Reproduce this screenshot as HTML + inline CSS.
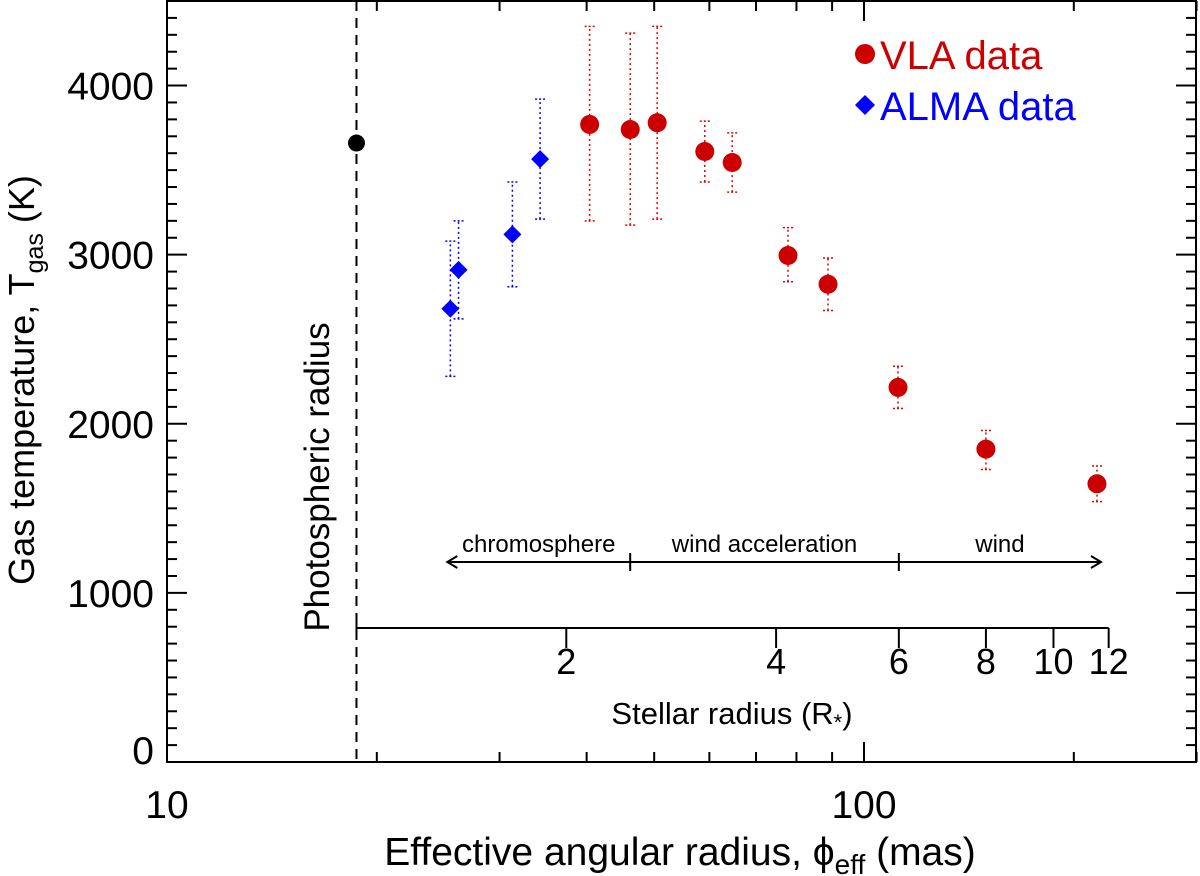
<!DOCTYPE html>
<html><head><meta charset="utf-8"><style>
html,body{margin:0;padding:0;background:#fff}
svg{display:block;font-family:"Liberation Sans",Arial,sans-serif}
</style></head><body>
<svg id="chart" width="1200" height="876" viewBox="0 0 1200 876">
<g id="axes"></g><g id="marks"></g>
</svg>
<script>
const vlaX=[40.4,46.2,50.5,59.1,64.7,77.8,88.8,111.9,149.6,215.9];
const vlaY=[3770,3740,3780,3610,3545,2995,2825,2215,1850,1645];
const vlaLo=[3200,3175,3210,3430,3370,2840,2670,2090,1730,1540];
const vlaHi=[4350,4310,4350,3790,3720,3160,2980,2340,1960,1750];
const almaX=[25.5,26.2,31.3,34.3];
const almaY=[2680,2910,3120,3565];
const almaLo=[2280,2620,2810,3210];
const almaHi=[3080,3200,3430,3920];
const photoX=18.7, photoY=3660;
const yTicks=[0,1000,2000,3000,4000];
const xTicks=[10,100];
const rTicks=[2,4,6,8,10,12];
const regionBounds=[1.35,2.47,6,11.7];
const regionNames=["chromosphere","wind acceleration","wind"];

const L=167,R=1196,T=1,B=762;
const X=m=>L+697*Math.log10(m/10);
const Y=v=>B-v*(B-T)/4500;
const RX=r=>X(photoX*r);
const NS="http://www.w3.org/2000/svg";
function mk(p,tag,at,txt){const e=document.createElementNS(NS,tag);for(const k in at)e.setAttribute(k,at[k]);if(txt!==undefined)e.textContent=txt;p.appendChild(e);return e;}
const ax=document.getElementById('axes'), mg=document.getElementById('marks');
let e=mk(ax,'rect',{x:L,y:T,width:R-L,height:B-T,fill:'none',stroke:'#000','stroke-width':2});

for(let v=100;v<=4500;v+=100){const big=v%1000===0;const y=Y(v);
mk(ax,'line',{x1:L,x2:L+(big?20:10),y1:y,y2:y,stroke:'#000','stroke-width':2});
mk(ax,'line',{x1:R,x2:R-(big?20:10),y1:y,y2:y,stroke:'#000','stroke-width':2});}
yTicks.forEach(v=>{const yy=v===0?Y(v)-12:Y(v);
e=mk(ax,'text',{x:154,y:yy+14,'text-anchor':'end','font-size':39},v);
});
for(let d=10;d<=100;d*=10)for(let k=1;k<10;k++){const m=d*k;if(m<10||m>300)continue;const big=k===1;const x=X(m);
mk(ax,'line',{x1:x,x2:x,y1:B,y2:B-(big?20:10),stroke:'#000','stroke-width':2});
mk(ax,'line',{x1:x,x2:x,y1:T,y2:T+(big?20:10),stroke:'#000','stroke-width':2});}
xTicks.forEach(m=>{e=mk(ax,'text',{x:X(m),y:818,'text-anchor':'middle','font-size':39},m);
});
e=mk(ax,'text',{x:34,y:380,'text-anchor':'middle','font-size':36,transform:'rotate(-90 34 380)'});
e.innerHTML='Gas temperature, T<tspan font-size="25" dy="9">gas</tspan><tspan dy="-9"> (K)</tspan>';

e=mk(ax,'text',{x:680,y:865,'text-anchor':'middle','font-size':39});
e.innerHTML='Effective angular radius, ϕ<tspan font-size="28" dy="9">eff</tspan><tspan dy="-9"> (mas)</tspan>';

e=mk(ax,'line',{x1:X(photoX),x2:X(photoX),y1:T,y2:B,stroke:'#000','stroke-width':2,'stroke-dasharray':'10,7'});

e=mk(ax,'text',{x:329,y:477,'text-anchor':'middle','font-size':35,transform:'rotate(-90 329 477)'},'Photospheric radius');

const ry=628;
e=mk(ax,'line',{x1:X(photoX),x2:RX(12),y1:ry,y2:ry,stroke:'#000','stroke-width':2});

mk(ax,'line',{x1:X(photoX),x2:X(photoX),y1:ry-6,y2:ry+6,stroke:'#000','stroke-width':2});
rTicks.forEach(r=>{const x=RX(r);mk(ax,'line',{x1:x,x2:x,y1:ry,y2:ry+20,stroke:'#000','stroke-width':2});
e=mk(ax,'text',{x:x,y:ry+46,'text-anchor':'middle','font-size':36},r);
});
e=mk(ax,'text',{x:732,y:724,'text-anchor':'middle','font-size':31});
e.innerHTML='Stellar radius (R<tspan font-size="22" dy="6">*</tspan><tspan dy="-6">)</tspan>';

const ay=562;const a0=RX(regionBounds[0]),a3=RX(regionBounds[3]);
e=mk(ax,'line',{x1:a0,x2:a3,y1:ay,y2:ay,stroke:'#000','stroke-width':2});

mk(ax,'polyline',{points:`${a0+10},${ay-6} ${a0},${ay} ${a0+10},${ay+6}`,fill:'none',stroke:'#000','stroke-width':2});
mk(ax,'polyline',{points:`${a3-10},${ay-6} ${a3},${ay} ${a3-10},${ay+6}`,fill:'none',stroke:'#000','stroke-width':2});
[1,2].forEach(i=>{const x=RX(regionBounds[i]);mk(ax,'line',{x1:x,x2:x,y1:ay-9,y2:ay+9,stroke:'#000','stroke-width':2});});
regionNames.forEach((n,i)=>{const xm=(RX(regionBounds[i])+RX(regionBounds[i+1]))/2;
e=mk(ax,'text',{x:xm,y:ay-10,'text-anchor':'middle','font-size':24},n);
});
function err(x,lo,hi,col){const px=X(x);
mk(mg,'line',{x1:px,x2:px,y1:Y(lo),y2:Y(hi),stroke:col,'stroke-width':1.5,'stroke-dasharray':'2,3'});
[lo,hi].forEach(v=>mk(mg,'line',{x1:px-5,x2:px+5,y1:Y(v),y2:Y(v),stroke:col,'stroke-width':1.5,'stroke-dasharray':'2,2'}));}
almaX.forEach((x,i)=>err(x,almaLo[i],almaHi[i],'#0000ff'));
vlaX.forEach((x,i)=>err(x,vlaLo[i],vlaHi[i],'#e00000'));
almaX.forEach((x,i)=>{const px=X(x),py=Y(almaY[i]);
e=mk(mg,'polygon',{points:`${px},${py-9} ${px+9},${py} ${px},${py+9} ${px-9},${py}`,fill:'#0000ff'});
});
vlaX.forEach((x,i)=>{e=mk(mg,'circle',{cx:X(x),cy:Y(vlaY[i]),r:9.5,fill:'#cc0000'});
});
e=mk(mg,'circle',{cx:X(photoX),cy:Y(photoY),r:8.5,fill:'#000'});

e=mk(mg,'circle',{cx:865,cy:54,r:10,fill:'#cc0000'});

e=mk(mg,'text',{x:880,y:69,'font-size':40,fill:'#cc0000'},'VLA data');

e=mk(mg,'polygon',{points:'865,95 875,105 865,115 855,105',fill:'#0000ff'});

e=mk(mg,'text',{x:880,y:120,'font-size':40,fill:'#0000ff'},'ALMA data');

</script>
</body></html>
